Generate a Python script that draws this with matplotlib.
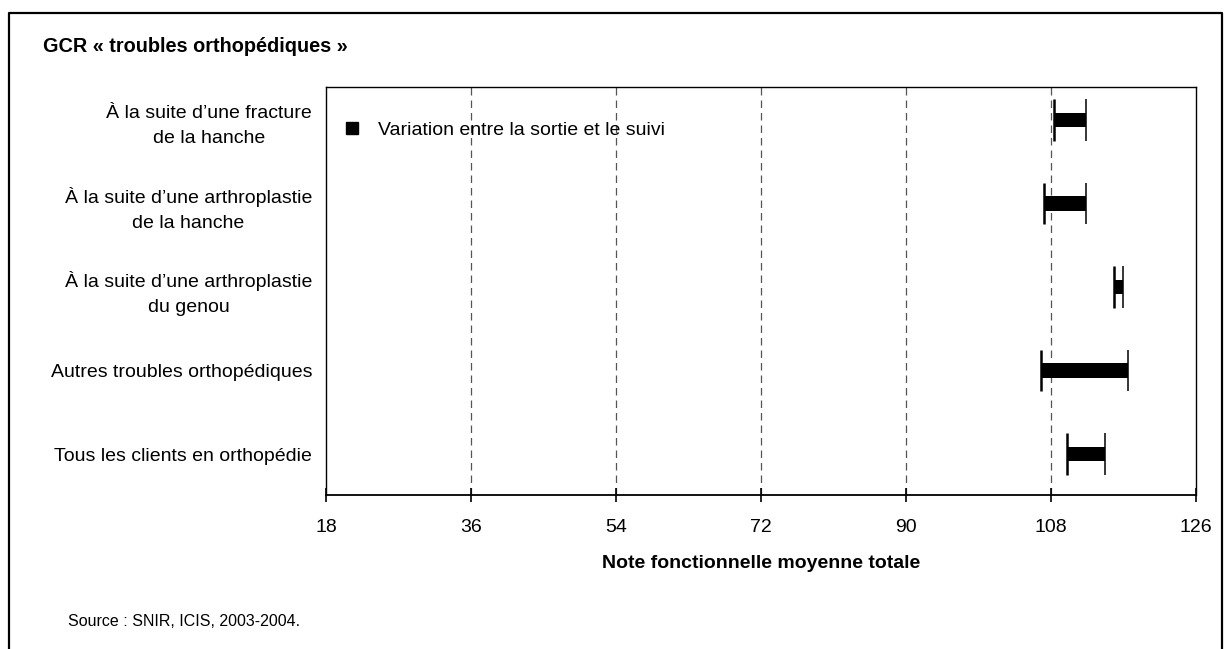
import matplotlib
matplotlib.use("Agg")
import matplotlib.pyplot as plt
from matplotlib.lines import Line2D

plt.rcParams['font.family'] = ['Liberation Sans', 'DejaVu Sans']

categories = [
    "À la suite d\u2019une fracture\nde la hanche",
    "À la suite d\u2019une arthroplastie\nde la hanche",
    "À la suite d\u2019une arthroplastie\ndu genou",
    "Autres troubles orthopédiques",
    "Tous les clients en orthopédie",
]
note_sortie = [108.4, 107.1, 115.8, 106.8, 110.0]
note_suivi = [112.4, 112.4, 116.9, 117.5, 114.7]
x_ticks = [18, 36, 54, 72, 90, 108, 126]

W, H = 1225, 649
fig = plt.figure(figsize=(W / 100, H / 100), dpi=100)
ax = fig.add_axes([326 / W, 1 - 495 / H, (1196 - 326) / W, (495 - 87) / H])

ypos = list(range(len(categories)))

# variation bars between discharge and follow-up scores
for y, a, b in zip(ypos, note_sortie, note_suivi):
    ax.barh(y, b - a, left=a, height=0.17, color='black', zorder=3)
    ax.vlines(a, y - 0.25, y + 0.25, color='black', lw=1.8, zorder=4)
    ax.vlines(b, y - 0.25, y + 0.25, color='black', lw=1.1, zorder=4)

ax.set_xlim(x_ticks[0], x_ticks[-1])
ax.set_ylim(4.49, -0.395)
ax.set_xticks(x_ticks)
ax.set_xticklabels([str(t) for t in x_ticks], fontsize=14)
ax.set_yticks(ypos)
ax.set_yticklabels(categories, fontsize=14, multialignment='center',
                   linespacing=1.65)

for t in x_ticks[1:-1]:
    ax.axvline(t, color='#555555', lw=0.9, ls=(0, (6, 4)), zorder=1)

for side in ['top', 'right', 'left']:
    ax.spines[side].set_linewidth(1.0)
ax.spines['bottom'].set_linewidth(1.3)
ax.tick_params(axis='x', direction='inout', length=10, width=1.2, pad=12)
ax.tick_params(axis='y', length=0, pad=10)

ax.set_xlabel("Note fonctionnelle moyenne totale", fontsize=14,
              fontweight='bold', labelpad=14)

handle = Line2D([], [], marker='s', color='black', ls='none', markersize=8)
ax.legend([handle], ["Variation entre la sortie et le suivi"], loc='upper left',
          bbox_to_anchor=(-0.01, 0.955), frameon=False, fontsize=14,
          handletextpad=0.3, borderaxespad=0.4)

fig.text(43 / W, 1 - 47 / H, "GCR « troubles orthopédiques »", fontsize=14.3,
         fontweight='bold', va='center', ha='left')
fig.text(68 / W, 1 - 621 / H, "Source : SNIR, ICIS, 2003-2004.", fontsize=11.5,
         va='center', ha='left')

# outer frame (left, top and right edges)
frame = Line2D([9 / W, 9 / W, 1222 / W, 1222 / W],
               [-0.05, 1 - 13 / H, 1 - 13 / H, -0.05],
               transform=fig.transFigure, color='black', lw=1.6)
fig.add_artist(frame)

fig.savefig("out.png", dpi=100, facecolor='white')
